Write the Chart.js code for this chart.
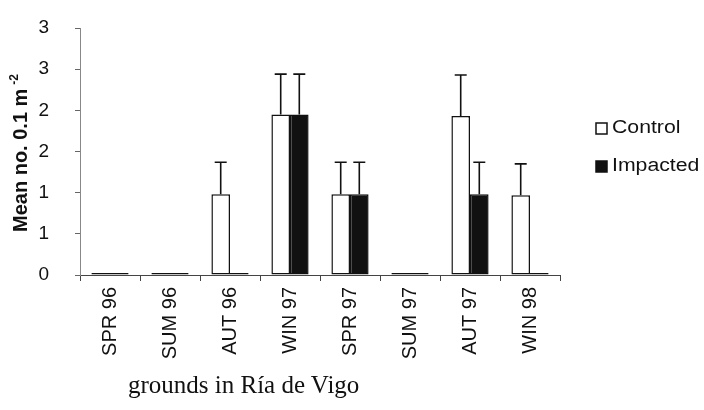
<!DOCTYPE html>
<html>
<head>
<meta charset="utf-8">
<script src="https://cdn.jsdelivr.net/npm/chart.js@4"></script>
<style>
    html, body { margin: 0; padding: 0; background: #fff; }
    #wrap { position: relative; width: 704px; height: 410px; overflow: hidden; }
    #caption {
        position: absolute; left: 128px; top: 371px;
        font-family: "Liberation Serif", "DejaVu Serif", serif;
        font-size: 25px; color: #111; white-space: nowrap;
    }
</style>
</head>
<body>
<div id="wrap">
    <canvas id="chart" width="704" height="410"></canvas>
    <div id="caption">grounds in Ría de Vigo</div>
</div>
<script>
// data
const seasons = ['SPR 96', 'SUM 96', 'AUT 96', 'WIN 97', 'SPR 97', 'SUM 97', 'AUT 97', 'WIN 98'];
const controlMeans = [0, 0, 0.98, 1.95, 0.98, 0, 1.93, 0.97];
const impactedMeans = [0, 0, 0, 1.95, 0.98, 0, 0.98, 0];
const controlErr = [null, null, 0.39, 0.49, 0.39, null, 0.5, 0.38];
const impactedErr = [null, null, null, 0.49, 0.39, null, 0.39, null];
const yTickLabels = ['0', '1', '1', '2', '2', '3', '3'];
const yTitle = 'Mean no. 0.1 m';
const yTitleSup = '-2';

const FONT = '"Liberation Sans", Arial, sans-serif';

// upper error bars, one per bar
const errorBars = {
    id: 'errorBars',
    afterDatasetsDraw(chart) {
        const ctx = chart.ctx;
        const y = chart.scales.y;
        chart.data.datasets.forEach((ds, i) => {
            const meta = chart.getDatasetMeta(i);
            meta.data.forEach((bar, j) => {
                const err = ds.errors[j];
                if (err == null) return;
                const top = y.getPixelForValue(ds.data[j] + err);
                ctx.save();
                ctx.strokeStyle = '#111';
                ctx.lineWidth = 1.6;
                ctx.beginPath();
                ctx.moveTo(bar.x, bar.y);
                ctx.lineTo(bar.x, top);
                ctx.moveTo(bar.x - 6, top);
                ctx.lineTo(bar.x + 6, top);
                ctx.stroke();
                ctx.restore();
            });
        });
    }
};

// rotated axis title with superscript, plus the legend on the right
const decorations = {
    id: 'decorations',
    afterDraw(chart) {
        const ctx = chart.ctx;
        ctx.save();
        ctx.fillStyle = '#111';
        ctx.translate(27, 153);
        ctx.rotate(-Math.PI / 2);
        ctx.font = 'bold 20px ' + FONT;
        ctx.textBaseline = 'alphabetic';
        const w = ctx.measureText(yTitle).width;
        ctx.font = 'bold 12px ' + FONT;
        const ws = ctx.measureText(yTitleSup).width;
        const start = -(w + ws + 4) / 2;
        ctx.font = 'bold 20px ' + FONT;
        ctx.fillText(yTitle, start, 0);
        ctx.font = 'bold 12px ' + FONT;
        ctx.fillText(yTitleSup, start + w + 4, -9);
        ctx.restore();

        const items = chart.data.datasets;
        items.forEach((ds, i) => {
            const cy = 128 + i * 38;
            ctx.save();
            ctx.fillStyle = ds.backgroundColor;
            ctx.strokeStyle = '#111';
            ctx.lineWidth = 1.5;
            ctx.fillRect(596, cy - 5, 11, 11);
            ctx.strokeRect(596, cy - 5, 11, 11);
            ctx.fillStyle = '#111';
            ctx.font = '18px ' + FONT;
            ctx.textBaseline = 'middle';
            ctx.translate(612, cy);
            ctx.scale(1.18, 1);
            ctx.fillText(ds.label, 0, 0);
            ctx.restore();
        });
    }
};

new Chart(document.getElementById('chart'), {
    type: 'bar',
    data: {
        labels: seasons,
        datasets: [{
            label: 'Control',
            data: controlMeans,
            errors: controlErr,
            backgroundColor: '#ffffff',
            borderColor: '#111',
            borderWidth: 1.5,
            borderSkipped: false,
            minBarLength: 2,
        }, {
            label: 'Impacted',
            data: impactedMeans,
            errors: impactedErr,
            backgroundColor: '#111111',
            borderColor: '#111',
            borderWidth: 1.5,
            borderSkipped: false,
            minBarLength: 2,
        }]
    },
    options: {
        responsive: false,
        animation: false,
        layout: { padding: { top: 0, right: 144, left: 0, bottom: 0 } },
        datasets: { bar: { categoryPercentage: 0.62, barPercentage: 1.0 } },
        plugins: {
            legend: { display: false },
            tooltip: { enabled: false },
        },
        scales: {
            x: {
                grid: { display: true, drawOnChartArea: false, tickLength: 6, color: '#444' },
                border: { color: '#444', width: 1 },
                ticks: {
                    color: '#111',
                    font: { family: FONT, size: 20 },
                    minRotation: 90,
                    maxRotation: 90,
                    padding: 6,
                },
                afterFit(scale) { scale.height = 135; },
            },
            y: {
                min: 0,
                max: 3,
                grid: { display: true, drawOnChartArea: false, tickLength: 5, color: '#666' },
                border: { color: '#888', width: 1, dash: [2, 4] },
                ticks: {
                    stepSize: 0.5,
                    color: '#111',
                    font: { family: FONT, size: 19 },
                    padding: 26,
                    callback: (value, index) => yTickLabels[index],
                },
                // fixed width, and keep the label padding from pushing the top down
                afterFit(scale) {
                    scale.width = 80;
                    scale.paddingTop = 28;
                },
            }
        }
    },
    plugins: [errorBars, decorations]
});
</script>
</body>
</html>
